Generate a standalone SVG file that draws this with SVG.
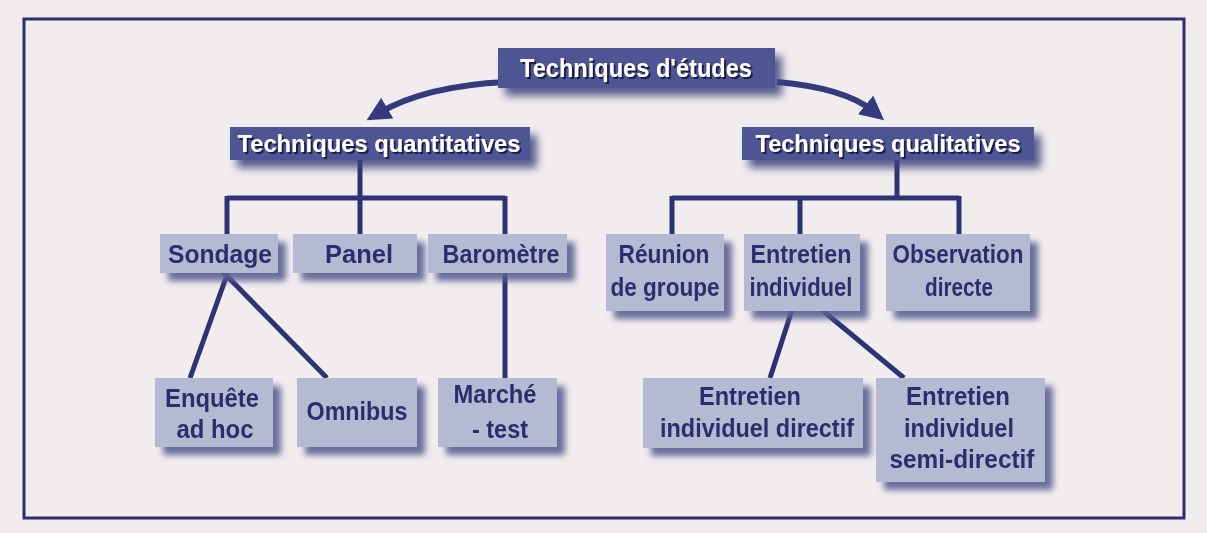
<svg xmlns="http://www.w3.org/2000/svg" width="1207" height="533" viewBox="0 0 1207 533">
<defs>
<style>
.bg{fill:#f1ecee}
.frame{fill:none;stroke:#2d2f6c;stroke-width:3}
.box{fill:#b5bad2}
.dbox{fill:#4d5492}
.t{font-family:"Liberation Sans",Arial,sans-serif;font-weight:700;fill:#2b2f6d;text-anchor:middle;font-size:25px}
.w{font-family:"Liberation Sans",Arial,sans-serif;font-weight:700;fill:#ffffff;text-anchor:middle}
.ln{stroke:#2e3373;stroke-width:5;fill:none;stroke-linecap:butt}
.arr{stroke:#343a7c;stroke-width:6;fill:none}
</style>
<filter id="sh" x="-20%" y="-30%" width="150%" height="170%">
<feGaussianBlur in="SourceAlpha" stdDeviation="3"/>
<feOffset dx="8" dy="8" result="b"/>
<feFlood flood-color="#5a6194" flood-opacity="0.9"/>
<feComposite in2="b" operator="in" result="s"/>
<feMerge><feMergeNode in="s"/><feMergeNode in="SourceGraphic"/></feMerge>
</filter>
<filter id="dsh" x="-20%" y="-40%" width="150%" height="200%">
<feGaussianBlur in="SourceAlpha" stdDeviation="4"/>
<feOffset dx="7" dy="8" result="b"/>
<feFlood flood-color="#3d437e" flood-opacity="0.85"/>
<feComposite in2="b" operator="in" result="s"/>
<feMerge><feMergeNode in="s"/><feMergeNode in="SourceGraphic"/></feMerge>
</filter>
<filter id="tsh" x="-5%" y="-20%" width="115%" height="150%">
<feOffset in="SourceAlpha" dx="1.5" dy="1.5" result="o"/>
<feFlood flood-color="#1c1f4d"/>
<feComposite in2="o" operator="in" result="s"/>
<feMerge><feMergeNode in="s"/><feMergeNode in="SourceGraphic"/></feMerge>
</filter>
<marker id="ah" viewBox="0 0 10 10" refX="4" refY="5" markerWidth="4" markerHeight="4" orient="auto" markerUnits="strokeWidth">
<path d="M0,0 L10,5 L0,10 z" fill="#343a7c"/>
</marker>
</defs>
<rect class="bg" x="0" y="0" width="1207" height="533"/>
<rect class="frame" x="24" y="19" width="1160" height="499"/>

<g id="connectors">
<path class="arr" d="M506,82 Q425,86 379,113" marker-end="url(#ah)"/>
<path class="arr" d="M777,82 Q845,88 873,111" marker-end="url(#ah)"/>
<path class="ln" d="M360,159 V198 M227,198 H505 M227,196 V235 M360,198 V235 M505,196 V235"/>
<path class="ln" d="M897,159 V198 M672,198 H959 M672,196 V235 M800,198 V235 M959,196 V235"/>
<path class="ln" d="M228,272 L190,378 M223,272 L327,378 M505,272 V378"/>
<path class="ln" d="M792,310 L770,378 M822,310 L904,378"/>
</g>

<g id="n-etudes" filter="url(#dsh)">
<rect class="dbox" x="498" y="48" width="277" height="40"/>
<text class="w" x="636" y="77" font-size="26" textLength="232" lengthAdjust="spacingAndGlyphs" filter="url(#tsh)">Techniques d'études</text>
</g>
<g id="n-quanti" filter="url(#dsh)">
<rect class="dbox" x="230" y="127" width="300" height="33"/>
<text class="w" x="379" y="152" font-size="24" textLength="283" lengthAdjust="spacingAndGlyphs" filter="url(#tsh)">Techniques quantitatives</text>
</g>
<g id="n-quali" filter="url(#dsh)">
<rect class="dbox" x="742" y="127" width="292" height="33"/>
<text class="w" x="888" y="152" font-size="24" textLength="265" lengthAdjust="spacingAndGlyphs" filter="url(#tsh)">Techniques qualitatives</text>
</g>

<g id="n-sondage" filter="url(#sh)">
<rect class="box" x="160" y="234" width="118" height="39"/>
<text class="t" x="220" y="263" textLength="104" lengthAdjust="spacingAndGlyphs">Sondage</text>
</g>
<g id="n-panel" filter="url(#sh)">
<rect class="box" x="293" y="234" width="124" height="39"/>
<text class="t" x="359" y="263" textLength="68" lengthAdjust="spacingAndGlyphs">Panel</text>
</g>
<g id="n-barometre" filter="url(#sh)">
<rect class="box" x="428" y="234" width="139" height="39"/>
<text class="t" x="501" y="263" textLength="117" lengthAdjust="spacingAndGlyphs">Baromètre</text>
</g>

<g id="n-reunion" filter="url(#sh)">
<rect class="box" x="606" y="234" width="118" height="77"/>
<text class="t" x="664" y="263" textLength="91" lengthAdjust="spacingAndGlyphs">Réunion</text>
<text class="t" x="665" y="296" textLength="109" lengthAdjust="spacingAndGlyphs">de groupe</text>
</g>
<g id="n-entretien" filter="url(#sh)">
<rect class="box" x="744" y="234" width="116" height="77"/>
<text class="t" x="801" y="263" textLength="101" lengthAdjust="spacingAndGlyphs">Entretien</text>
<text class="t" x="801" y="296" textLength="103" lengthAdjust="spacingAndGlyphs">individuel</text>
</g>
<g id="n-observation" filter="url(#sh)">
<rect class="box" x="886" y="234" width="144" height="77"/>
<text class="t" x="958" y="263" textLength="131" lengthAdjust="spacingAndGlyphs">Observation</text>
<text class="t" x="959" y="296" textLength="68" lengthAdjust="spacingAndGlyphs">directe</text>
</g>

<g id="n-enquete" filter="url(#sh)">
<rect class="box" x="155" y="378" width="118" height="69"/>
<text class="t" x="212" y="407" textLength="94" lengthAdjust="spacingAndGlyphs">Enquête</text>
<text class="t" x="215" y="438" textLength="77" lengthAdjust="spacingAndGlyphs">ad hoc</text>
</g>
<g id="n-omnibus" filter="url(#sh)">
<rect class="box" x="297" y="378" width="120" height="69"/>
<text class="t" x="357" y="420" textLength="101" lengthAdjust="spacingAndGlyphs">Omnibus</text>
</g>
<g id="n-marche" filter="url(#sh)">
<rect class="box" x="438" y="378" width="119" height="69"/>
<text class="t" x="495" y="403" textLength="83" lengthAdjust="spacingAndGlyphs">Marché</text>
<text class="t" x="500" y="438" textLength="56" lengthAdjust="spacingAndGlyphs">- test</text>
</g>

<g id="n-directif" filter="url(#sh)">
<rect class="box" x="643" y="378" width="220" height="70"/>
<text class="t" x="750" y="405" textLength="102" lengthAdjust="spacingAndGlyphs">Entretien</text>
<text class="t" x="757" y="437" textLength="194" lengthAdjust="spacingAndGlyphs">individuel directif</text>
</g>
<g id="n-semidirectif" filter="url(#sh)">
<rect class="box" x="876" y="378" width="169" height="104"/>
<text class="t" x="958" y="405" textLength="104" lengthAdjust="spacingAndGlyphs">Entretien</text>
<text class="t" x="959" y="437" textLength="110" lengthAdjust="spacingAndGlyphs">individuel</text>
<text class="t" x="962" y="468" textLength="145" lengthAdjust="spacingAndGlyphs">semi-directif</text>
</g>
</svg>
